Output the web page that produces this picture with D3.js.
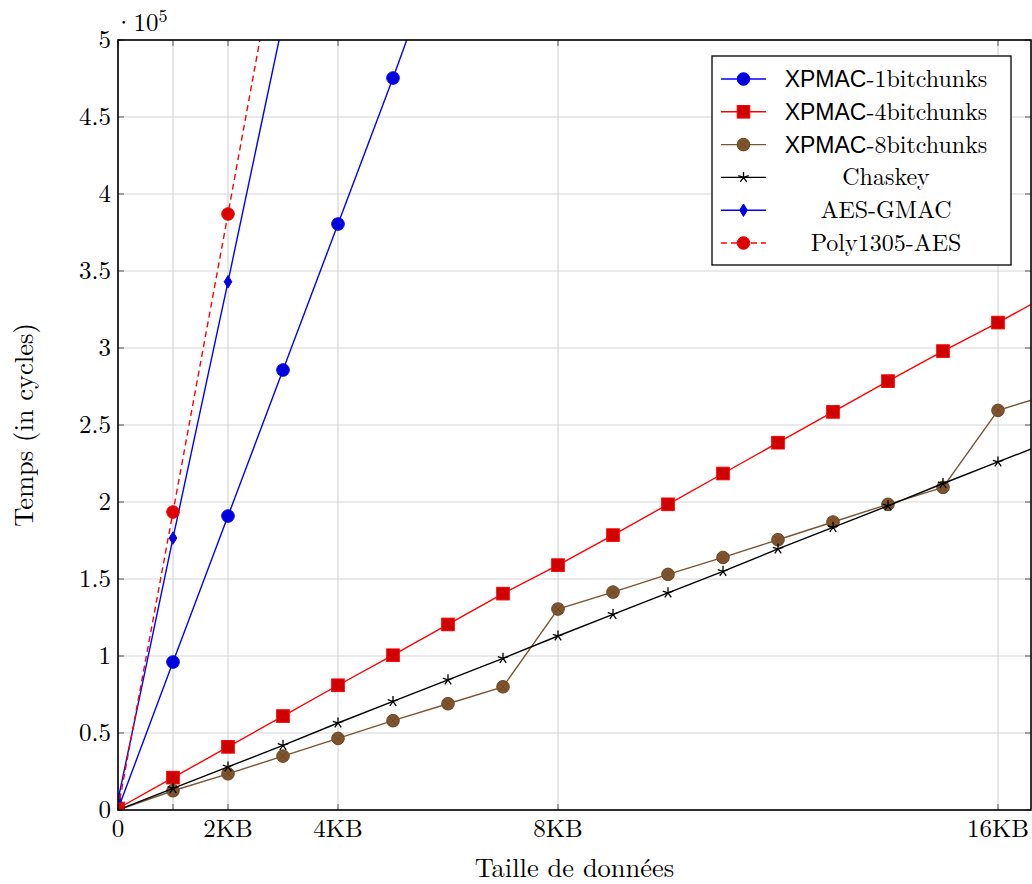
<!DOCTYPE html>
<html>
<head>
<meta charset="utf-8">
<script src="https://cdn.jsdelivr.net/npm/d3@7"></script>
<style>
body { margin: 0; background: #fff; }
text { font-family: "Latin Modern Roman", "Liberation Serif", serif; fill: #000; }
</style>
</head>
<body>
<script>
var w = 1032;
var h = 884;
var margin = {left: 118, right: 1, top: 40, bottom: 74};

// data sizes in KB, times in 1e5 cycles
var sizes = [0,1,2,3,4,5,6,7,8,9,10,11,12,13,14,15,16,17];
var xpmac1 = [0.005,0.961,1.909,2.857,3.805,4.753,5.74];
var xpmac4 = [0.01,0.21,0.41,0.61,0.81,1.005,1.205,1.405,1.59,1.785,1.985,2.185,2.385,2.585,2.785,2.98,3.165,3.36];
var xpmac8 = [0,0.125,0.235,0.35,0.465,0.58,0.69,0.80,1.305,1.415,1.53,1.64,1.755,1.87,1.985,2.095,2.595,2.705];
var chaskey = [0,0.14,0.28,0.42,0.565,0.705,0.845,0.985,1.13,1.27,1.41,1.55,1.695,1.835,1.975,2.12,2.26,2.40];
var aesgmac = [0.065,1.766,3.43,5.12];
var poly1305 = [0.005,1.935,3.87,5.82];

var xTickVals = [0,1,2,4,8,16];
var xTickLabels = ["0","","2KB","4KB","8KB","16KB"];
var yTickVals = [0,0.5,1,1.5,2,2.5,3,3.5,4,4.5,5];

var series = [
  {name: "XPMAC", rest: "-1bitchunks", values: xpmac1, color: "#0000ff", mark: "circle", fill: "#0000dd", stroke: "#0000ff", r: 6.3},
  {name: "XPMAC", rest: "-4bitchunks", values: xpmac4, color: "#ff0000", mark: "square", fill: "#d00000", stroke: "#ff0000", r: 6.3},
  {name: "XPMAC", rest: "-8bitchunks", values: xpmac8, color: "#7a5533", mark: "otimes", fill: "#7f5530", stroke: "#6a4520", r: 6.3},
  {name: "", rest: "Chaskey", values: chaskey, color: "#000000", mark: "star", fill: "none", stroke: "#000", r: 5.5},
  {name: "", rest: "AES-GMAC", values: aesgmac, color: "#0000ff", mark: "diamond", fill: "#0000dd", stroke: "#0000ff", r: 4.8},
  {name: "", rest: "Poly1305-AES", values: poly1305, color: "#ff0000", mark: "circle", fill: "#dd0000", stroke: "#ff0000", r: 6.3, dash: "6,4"}
];

var x0 = margin.left, x1 = w - margin.right, y0 = h - margin.bottom, y1 = margin.top;

var xScale = d3.scaleLinear().domain([0, (x1 - x0) / 55]).range([x0, x1]);
var yScale = d3.scaleLinear().domain([0, 5]).range([y0, y1]);

var svg = d3.select("body").append("svg")
    .attr("width", w)
    .attr("height", h);

svg.append("clipPath").attr("id", "plotclip")
  .append("rect")
    .attr("x", x0).attr("y", y1)
    .attr("width", x1 - x0).attr("height", y0 - y1);

// grid
svg.append("g").selectAll("line")
    .data(xTickVals).enter().append("line")
    .attr("x1", d => xScale(d)).attr("x2", d => xScale(d))
    .attr("y1", y1).attr("y2", y0)
    .attr("stroke", "#d6d6d6").attr("stroke-width", 1.2);
svg.append("g").selectAll("line")
    .data(yTickVals).enter().append("line")
    .attr("x1", x0).attr("x2", x1)
    .attr("y1", d => yScale(d)).attr("y2", d => yScale(d))
    .attr("stroke", "#d6d6d6").attr("stroke-width", 1.2);

// ticks inside, on all four sides
var ticks = svg.append("g").attr("stroke", "#555").attr("stroke-width", 1);
xTickVals.forEach(function(d){
  ticks.append("line").attr("x1", xScale(d)).attr("x2", xScale(d)).attr("y1", y0).attr("y2", y0 - 6);
  ticks.append("line").attr("x1", xScale(d)).attr("x2", xScale(d)).attr("y1", y1).attr("y2", y1 + 6);
});
yTickVals.forEach(function(d){
  ticks.append("line").attr("x1", x0).attr("x2", x0 + 6).attr("y1", yScale(d)).attr("y2", yScale(d));
  ticks.append("line").attr("x1", x1).attr("x2", x1 - 6).attr("y1", yScale(d)).attr("y2", yScale(d));
});

// tick labels
svg.append("g").selectAll("text")
    .data(xTickVals).enter().append("text")
    .attr("x", d => xScale(d))
    .attr("y", y0 + 27)
    .attr("text-anchor", "middle")
    .attr("font-size", 25)
    .text((d, i) => xTickLabels[i]);

svg.append("g").selectAll("text")
    .data(yTickVals).enter().append("text")
    .attr("x", x0 - 7)
    .attr("y", d => yScale(d) + 8)
    .attr("text-anchor", "end")
    .attr("font-size", 25)
    .text(d => d3.format("")(d));

var expo = svg.append("text").attr("x", x0 - 4).attr("y", 31).attr("font-size", 25);
expo.append("tspan").text("·10");
expo.append("tspan").attr("dy", -9).attr("font-size", 18).text("5");

// axis titles
svg.append("text")
    .attr("x", (x0 + x1) / 2).attr("y", 877)
    .attr("text-anchor", "middle").attr("font-size", 26.5)
    .text("Taille de données");
svg.append("text")
    .attr("transform", "translate(33," + ((y0 + y1) / 2) + ") rotate(-90)")
    .attr("text-anchor", "middle").attr("font-size", 26.5)
    .text("Temps (in cycles)");

// markers
function drawMark(g, s, cx, cy) {
  if (s.mark == "circle") {
    g.append("circle").attr("cx", cx).attr("cy", cy).attr("r", s.r)
      .attr("fill", s.fill).attr("stroke", s.stroke).attr("stroke-width", 1);
  } else if (s.mark == "square") {
    g.append("rect").attr("x", cx - s.r).attr("y", cy - s.r)
      .attr("width", 2 * s.r).attr("height", 2 * s.r)
      .attr("fill", s.fill).attr("stroke", s.stroke).attr("stroke-width", 1);
  } else if (s.mark == "otimes") {
    g.append("circle").attr("cx", cx).attr("cy", cy).attr("r", s.r)
      .attr("fill", s.fill).attr("stroke", s.stroke).attr("stroke-width", 1);
    var k = s.r * 0.7;
    g.append("path")
      .attr("d", "M" + (cx - k) + "," + (cy - k) + "L" + (cx + k) + "," + (cy + k) +
                 "M" + (cx - k) + "," + (cy + k) + "L" + (cx + k) + "," + (cy - k))
      .attr("stroke", s.stroke).attr("stroke-width", 0.8);
  } else if (s.mark == "star") {
    var p = "";
    for (var a = 0; a < 5; a++) {
      var ang = -Math.PI / 2 + a * 2 * Math.PI / 5;
      p += "M" + cx + "," + cy + "L" + (cx + s.r * Math.cos(ang)) + "," + (cy + s.r * Math.sin(ang));
    }
    g.append("path").attr("d", p).attr("stroke", s.stroke).attr("stroke-width", 1.3).attr("fill", "none");
  } else if (s.mark == "diamond") {
    g.append("path")
      .attr("d", "M" + cx + "," + (cy - s.r * 1.3) + "L" + (cx + s.r * 0.8) + "," + cy +
                 "L" + cx + "," + (cy + s.r * 1.3) + "L" + (cx - s.r * 0.8) + "," + cy + "Z")
      .attr("fill", s.fill).attr("stroke", s.stroke).attr("stroke-width", 1);
  }
}

var plot = svg.append("g").attr("clip-path", "url(#plotclip)");
var line = d3.line()
    .x((d, i) => xScale(sizes[i]))
    .y(d => yScale(d));

series.forEach(function(s){
  var g = plot.append("g");
  g.append("path")
    .attr("d", line(s.values))
    .attr("fill", "none")
    .attr("stroke", s.color)
    .attr("stroke-width", 1.4)
    .attr("stroke-dasharray", s.dash || null);
  s.values.forEach(function(v, i){
    drawMark(g, s, xScale(sizes[i]), yScale(v));
  });
});

// frame
svg.append("rect")
    .attr("x", x0).attr("y", y1)
    .attr("width", x1 - x0).attr("height", y0 - y1)
    .attr("fill", "none").attr("stroke", "#000").attr("stroke-width", 1.6);

// legend
var lg = svg.append("g");
lg.append("rect")
    .attr("x", 712).attr("y", 56).attr("width", 299).attr("height", 209)
    .attr("fill", "#fff").attr("stroke", "#000").attr("stroke-width", 1.3);
series.forEach(function(s, i){
  var yy = 79 + i * 32.8;
  lg.append("line").attr("x1", 721).attr("x2", 766).attr("y1", yy).attr("y2", yy)
    .attr("stroke", s.color).attr("stroke-width", 1.4)
    .attr("stroke-dasharray", s.dash || null);
  drawMark(lg, s, 743.5, yy);
  var t = lg.append("text").attr("x", 886).attr("y", yy + 8)
    .attr("text-anchor", "middle").attr("font-size", 24);
  if (s.name) t.append("tspan").attr("font-family", "'Liberation Sans', sans-serif").attr("font-size", 23).text(s.name);
  t.append("tspan").text(s.rest);
});
</script>
</body>
</html>
